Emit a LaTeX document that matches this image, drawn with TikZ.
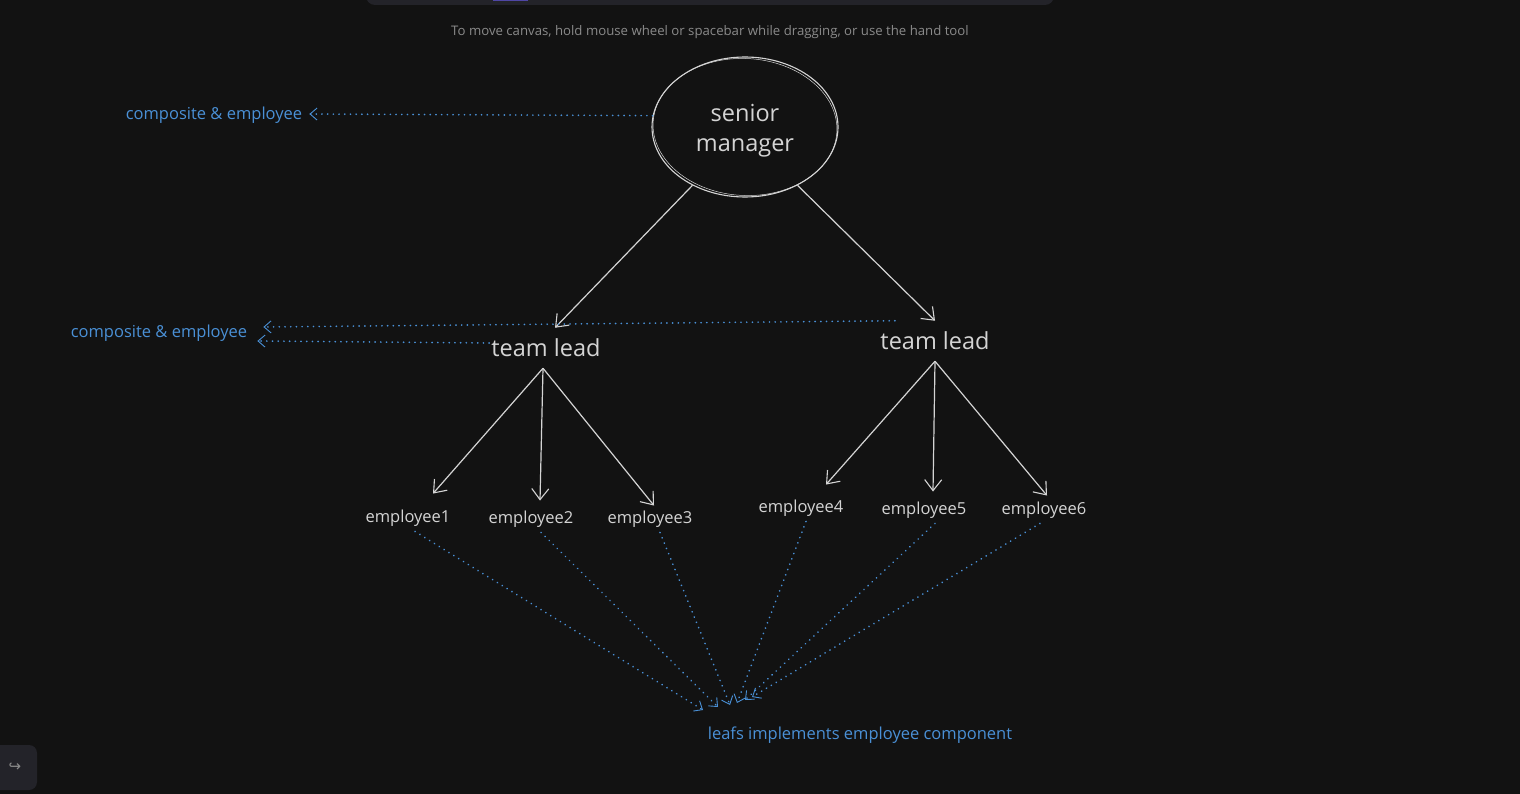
\documentclass[tikz,border=0pt]{standalone}
\usepackage{fontspec}
\setmainfont{Open Sans}
\newfontfamily\symfont{DejaVu Sans}
\usepackage{xcolor}
\usetikzlibrary{shapes.geometric,arrows.meta,positioning}

\definecolor{canvas}{HTML}{121212}
\definecolor{panel}{HTML}{232329}
\definecolor{tab}{HTML}{4F46A5}
\definecolor{ink}{HTML}{D4D4D4}
\definecolor{note}{HTML}{4A90D6}
\definecolor{hint}{HTML}{8A8A8A}

\begin{document}
\begin{tikzpicture}[
    x=1pt, y=-1pt,
    mgr/.style={ellipse, draw=ink, line width=1.1pt, minimum width=186pt, minimum height=140pt, inner sep=0pt},
    mgrtext/.style={align=center, text=ink, font=\fontsize{23.5}{30}\selectfont},
    lead/.style={inner sep=11pt, text=ink, font=\fontsize{23.5}{28}\selectfont},
    emp/.style={inner sep=3pt, text=ink, font=\fontsize{16.5}{20}\selectfont},
    label/.style={inner sep=3pt, text=note, font=\fontsize{16.5}{20}\selectfont},
    arrow/.style={draw=ink, line width=1.2pt, -{Straight Barb[length=11pt, width=17pt, line width=1.1pt]}},
    dots/.style={draw=note, line width=1.7pt, line cap=round, dash pattern=on 0.2pt off 5.5pt, -{Straight Barb[length=7pt, width=12pt, line width=0.9pt]}}
]
\useasboundingbox[fill=canvas] (0,0) rectangle (1520,794);

% canvas chrome
\fill[panel, rounded corners=9pt] (366,-30) rectangle (1054,5);
\fill[tab] (493,-4) rectangle (528,1.5);
\node[text=hint, font=\fontsize{13.2}{16}\selectfont] (hintline) at (710,32) {To move canvas, hold mouse wheel or spacebar while dragging, or use the hand tool};
\fill[panel, rounded corners=8pt] (-10,745) rectangle (37,790);
\node[text=hint, font=\symfont\fontsize{15}{18}\selectfont] (redo) at (15,767) {↪};

% hierarchy
\node[mgr] (senior) at (745,127) {};
\draw[ink, line width=0.5pt, rotate around={-3:(senior.center)}] (senior.center) ellipse [x radius=92pt, y radius=68.5pt];
\node[mgrtext] (seniortext) at (745,131) {senior\\manager};
\node[lead] (leadA) at (546,348) {team lead};
\node[lead] (leadB) at (935,341) {team lead};
\node[emp] (emp1) at (408,518) {employee1};
\node[emp] (emp2) at (531,519) {employee2};
\node[emp] (emp3) at (650,519) {employee3};
\node[emp] (emp4) at (801,508) {employee4};
\node[emp] (emp5) at (924,510) {employee5};
\node[emp] (emp6) at (1044,510) {employee6};

\draw[arrow] (senior.228) -- ([xshift=9pt]leadA.north);
\draw[arrow] (senior.-48) -- (leadB.north);
\draw[arrow] ([xshift=-3pt]leadA.south) -- ([xshift=25pt,yshift=13pt]emp1.north);
\draw[arrow] ([xshift=-3pt]leadA.south) -- ([xshift=9pt,yshift=7pt]emp2.north);
\draw[arrow] ([xshift=-3pt]leadA.south) -- ([xshift=4pt,yshift=2pt]emp3.north);
\draw[arrow] (leadB.south) -- ([xshift=25pt,yshift=12pt]emp4.north);
\draw[arrow] (leadB.south) -- ([xshift=9pt,yshift=7pt]emp5.north);
\draw[arrow] (leadB.south) -- ([xshift=3pt,yshift=3pt]emp6.north);

% notes
\node[label] (compTop) at (214,115) {composite \& employee};
\node[label] (compMid) at (159,333) {composite \& employee};
\node[label] (leafnote) at (860,735) {leafs implements employee component};

\draw[dots] (senior.173) -- ([xshift=4pt,yshift=1pt]compTop.east);
\draw[dots] ([xshift=-40pt]leadB.north) -- ([xshift=13pt,yshift=6pt]compMid.east);
\draw[dots] ([xshift=9pt,yshift=5pt]leadA.west) -- ([xshift=7pt,yshift=-8pt]compMid.east);

\coordinate (hub1) at (703,710);
\coordinate (hub2) at (718,707);
\coordinate (hub3) at (730,705);
\coordinate (hub4) at (737,703);
\coordinate (hub5) at (745,700);
\coordinate (hub6) at (752,697);
\draw[dots] ([xshift=7pt,yshift=-2pt]emp1.south) -- (hub1);
\draw[dots] ([xshift=10pt,yshift=-2pt]emp2.south) -- (hub2);
\draw[dots] ([xshift=10pt,yshift=-2pt]emp3.south) -- (hub3);
\draw[dots] ([xshift=5pt,yshift=-2pt]emp4.south) -- (hub4);
\draw[dots] ([xshift=11pt,yshift=-2pt]emp5.south) -- (hub5);
\draw[dots] ([xshift=-4pt,yshift=-2pt]emp6.south) -- (hub6);
\end{tikzpicture}
\end{document}
